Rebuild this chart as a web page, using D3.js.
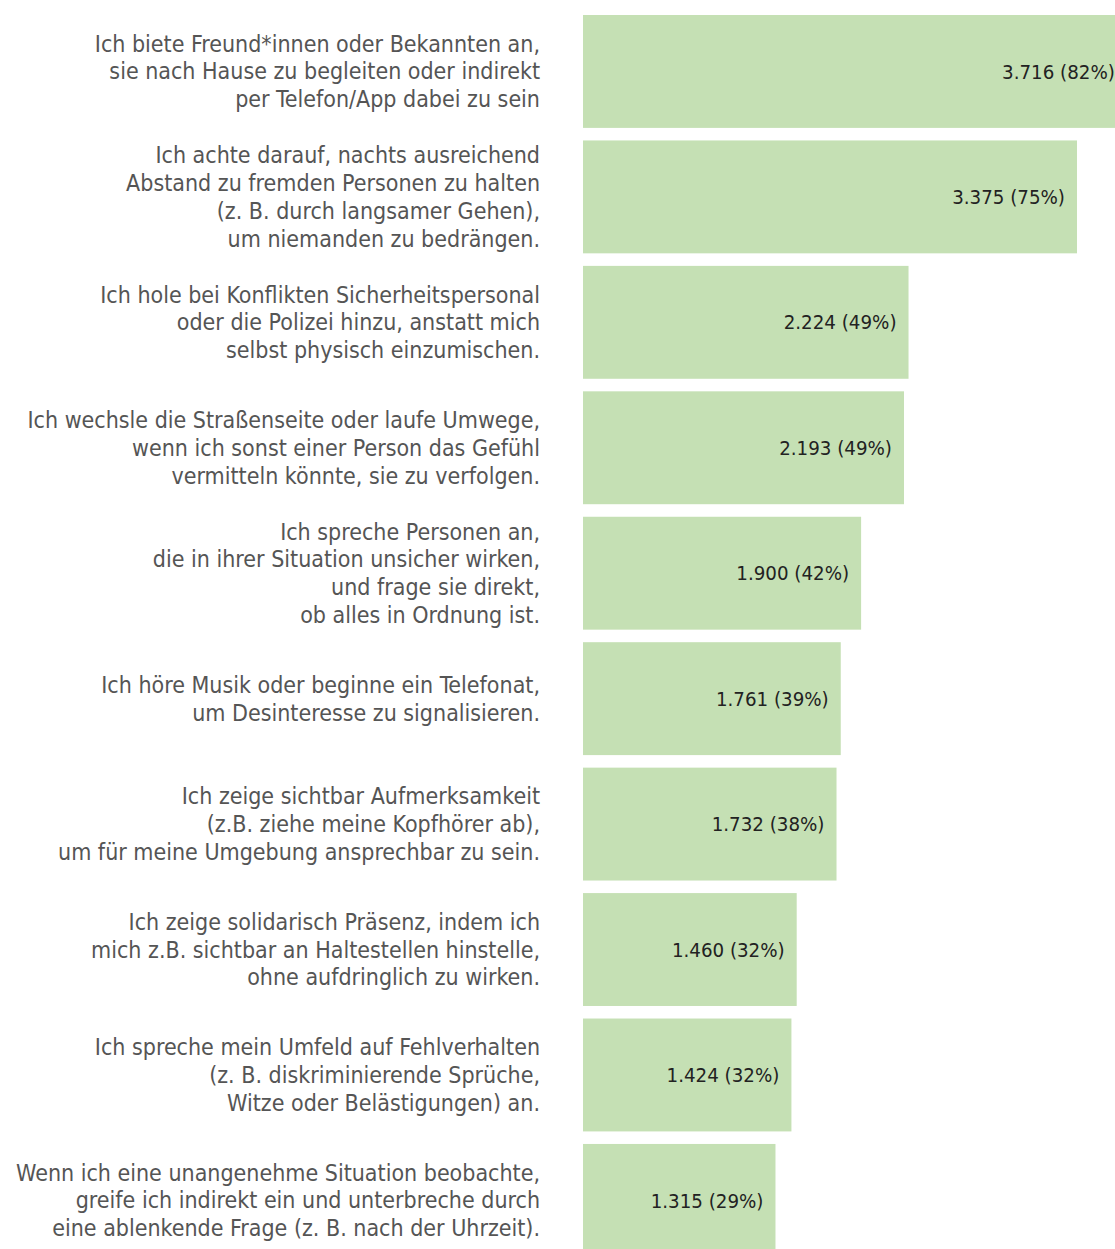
<!DOCTYPE html>
<html>
<head>
<meta charset="utf-8">
<script src="https://cdn.jsdelivr.net/npm/d3@7"></script>
<style>
  html, body { margin: 0; padding: 0; background: #fff; overflow: hidden; }
  svg { display: block; }
</style>
</head>
<body>
<svg id="chart" width="1115" height="1249"></svg>
<script>
// Statements (each entry is one multi-line label)
const statements = [
  ["Ich biete Freund*innen oder Bekannten an,", "sie nach Hause zu begleiten oder indirekt", "per Telefon/App dabei zu sein"],
  ["Ich achte darauf, nachts ausreichend", "Abstand zu fremden Personen zu halten", "(z. B. durch langsamer Gehen),", "um niemanden zu bedrängen."],
  ["Ich hole bei Konflikten Sicherheitspersonal", "oder die Polizei hinzu, anstatt mich", "selbst physisch einzumischen."],
  ["Ich wechsle die Straßenseite oder laufe Umwege,", "wenn ich sonst einer Person das Gefühl", "vermitteln könnte, sie zu verfolgen."],
  ["Ich spreche Personen an,", "die in ihrer Situation unsicher wirken,", "und frage sie direkt,", "ob alles in Ordnung ist."],
  ["Ich höre Musik oder beginne ein Telefonat,", "um Desinteresse zu signalisieren."],
  ["Ich zeige sichtbar Aufmerksamkeit", "(z.B. ziehe meine Kopfhörer ab),", "um für meine Umgebung ansprechbar zu sein."],
  ["Ich zeige solidarisch Präsenz, indem ich", "mich z.B. sichtbar an Haltestellen hinstelle,", "ohne aufdringlich zu wirken."],
  ["Ich spreche mein Umfeld auf Fehlverhalten", "(z. B. diskriminierende Sprüche,", "Witze oder Belästigungen) an."],
  ["Wenn ich eine unangenehme Situation beobachte,", "greife ich indirekt ein und unterbreche durch", "eine ablenkende Frage (z. B. nach der Uhrzeit)."]
];

// Number of respondents choosing each statement
const counts = [3716, 3375, 2224, 2193, 1900, 1761, 1732, 1460, 1424, 1315];

// Share of respondents (percent)
const shares = [82, 75, 49, 49, 42, 39, 38, 32, 32, 29];

const de = d3.formatLocale({ decimal: ",", thousands: ".", grouping: [3], currency: ["", " €"] });
const fmtCount = de.format(",");

const svg = d3.select("#chart");
const ids = d3.range(counts.length);

const x = d3.scaleLinear()
  .domain([0, 3375])
  .range([583, 1077]);

const y = d3.scaleBand()
  .domain(ids)
  .range([15, 15 + 125.44 * 9.9])
  .paddingInner(0.1)
  .paddingOuter(0);

const labelFont = "'DejaVu Sans Condensed', 'Liberation Sans Narrow', 'Open Sans', sans-serif";

// Bars
svg.append("g")
  .selectAll("rect")
  .data(ids)
  .join("rect")
  .attr("x", x(0))
  .attr("y", i => y(i))
  .attr("width", i => x(counts[i]) - x(0))
  .attr("height", y.bandwidth())
  .attr("fill", "#c5e0b4");

// Value labels inside the bars
svg.append("g")
  .selectAll("text")
  .data(ids)
  .join("text")
  .attr("x", i => x(counts[i]) - 12)
  .attr("y", i => y(i) + y.bandwidth() / 2)
  .attr("dy", "0.35em")
  .attr("text-anchor", "end")
  .attr("font-family", labelFont)
  .attr("font-size", 20.3)
  .attr("fill", "#222")
  .text(i => `${fmtCount(counts[i])} (${shares[i]}%)`);

// Category labels (right-aligned, vertically centred on each bar)
const lineH = 27.8;
const cat = svg.append("g")
  .selectAll("text")
  .data(ids)
  .join("text")
  .attr("text-anchor", "end")
  .attr("font-family", labelFont)
  .attr("font-size", 23)
  .attr("fill", "#555");

cat.each(function (i) {
  const lines = statements[i];
  const cy = y(i) + y.bandwidth() / 2;
  const top = cy - (lines.length - 1) * lineH / 2;
  d3.select(this).selectAll("tspan")
    .data(lines)
    .join("tspan")
    .attr("x", 540)
    .attr("y", (d, k) => top + k * lineH)
    .attr("dy", "0.35em")
    .text(d => d);
});
</script>
</body>
</html>
